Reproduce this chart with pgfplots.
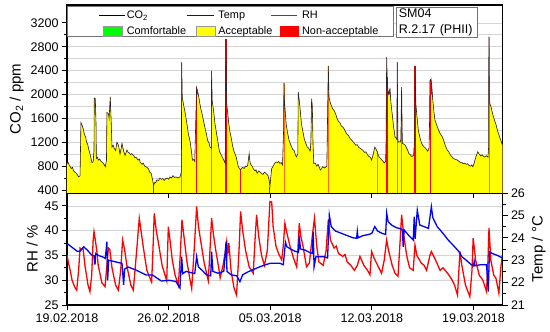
\documentclass[border=0pt]{standalone}
\usepackage{fontspec}
\setmainfont{Liberation Sans}
\usepackage{pgfplots}
\pgfplotsset{compat=1.18}
\usepackage{pgfplotstable}

\definecolor{cyel}{RGB}{255,255,0}
\definecolor{cred}{RGB}{255,0,0}
\definecolor{cgreen}{RGB}{0,255,0}
\definecolor{corange}{RGB}{255,110,0}
\definecolor{cblue}{RGB}{0,0,255}

\pgfplotstableread{
d c
0.00 845
0.08 860
0.15 820
0.30 760
0.38 780
0.45 720
0.60 690
0.70 660
0.80 620
0.90 640
0.96 1530
1.05 1480
1.12 1420
1.20 1330
1.28 1290
1.35 1200
1.42 1170
1.50 1080
1.60 990
1.72 860
1.80 870
1.86 1060
1.88 1940
1.95 1930
2.00 1500
2.02 930
2.10 950
2.15 900
2.25 920
2.35 880
2.50 850
2.64 790
2.72 900
2.75 1700
2.85 1680
2.90 1600
2.98 1960
3.05 1500
3.10 1120
3.18 1150
3.25 1100
3.35 1060
3.44 1200
3.55 1150
3.65 1000
3.72 1080
3.79 1180
3.90 1050
4.00 980
4.13 1070
4.22 1030
4.30 1020
4.38 990
4.45 1010
4.59 980
4.68 940
4.75 950
4.90 900
4.98 920
5.05 860
5.17 830
5.25 850
5.35 800
5.50 780
5.60 760
5.70 700
5.80 680
5.85 620
5.97 480
6.05 530
6.10 520
6.20 570
6.31 560
6.40 600
6.50 580
6.60 590
6.70 560
6.80 590
6.90 600
7.00 580
7.10 620
7.20 600
7.30 640
7.40 610
7.50 620
7.65 600
7.78 620
7.88 700
7.90 2540
7.94 1950
8.05 1800
8.12 1720
8.20 1600
8.28 1480
8.35 1350
8.42 1280
8.50 1180
8.57 1050
8.64 900
8.72 910
8.80 880
8.93 2120
9.00 2050
9.08 1960
9.15 1850
9.22 1760
9.30 1680
9.40 1560
9.50 1450
9.60 1340
9.70 1220
9.78 1190
9.85 1120
9.94 1100
9.96 2400
10.00 1900
10.10 1720
10.20 1500
10.30 1350
10.40 1200
10.50 1050
10.60 1000
10.70 950
10.80 900
10.90 845
10.95 2930
11.00 1850
11.08 1660
11.15 1500
11.22 1380
11.30 1290
11.40 1150
11.50 1050
11.58 1000
11.65 955
11.72 880
11.80 790
11.95 735
12.02 760
12.10 780
12.20 760
12.30 800
12.38 790
12.45 820
12.55 1010
12.60 880
12.65 830
12.75 800
12.85 750
12.95 720
13.02 740
13.10 680
13.20 720
13.30 700
13.40 680
13.50 660
13.60 700
13.70 680
13.78 660
13.85 640
13.93 560
13.98 455
14.04 620
14.10 760
14.20 800
14.30 845
14.40 870
14.50 860
14.58 880
14.67 845
14.75 860
14.85 820
14.92 1400
14.94 2200
14.98 1900
15.05 1650
15.10 1500
15.20 1350
15.30 1230
15.42 1150
15.55 1080
15.65 1060
15.72 1000
15.80 955
15.90 1000
15.93 2040
16.00 1900
16.08 1700
16.15 1510
16.25 1380
16.35 1250
16.45 1180
16.55 1120
16.65 1100
16.75 1050
16.80 1200
16.85 1930
16.90 1800
16.95 1150
17.00 845
17.10 850
17.20 800
17.30 830
17.45 735
17.55 760
17.60 790
17.75 770
17.90 800
18.00 2480
18.05 1950
18.12 1880
18.20 1820
18.30 1760
18.40 1730
18.50 1680
18.60 1600
18.70 1550
18.80 1530
18.90 1470
19.00 1456
19.10 1420
19.20 1370
19.30 1330
19.40 1310
19.50 1260
19.60 1240
19.70 1210
19.80 1180
19.90 1150
20.00 1160
20.10 1110
20.20 1100
20.30 1080
20.40 1060
20.50 1030
20.60 1040
20.70 990
20.80 960
20.90 950
20.98 900
21.05 960
21.10 1000
21.20 1120
21.28 1090
21.35 1050
21.42 1000
21.50 955
21.60 930
21.70 900
21.78 880
21.85 850
21.95 880
21.98 1200
22.02 2630
22.06 2260
22.12 2000
22.18 2050
22.25 2095
22.32 1850
22.40 1678
22.50 1450
22.60 1290
22.72 1250
22.75 2540
22.80 1200
22.88 1210
22.95 1200
23.00 1250
23.05 2120
23.10 1180
23.20 1170
23.30 1150
23.40 1100
23.48 1060
23.55 1010
23.65 990
23.75 960
23.88 980
23.95 1300
23.97 2480
24.03 1845
24.10 1650
24.20 1400
24.30 1290
24.40 1200
24.50 1150
24.60 1122
24.70 1100
24.85 1050
24.94 1100
24.98 1600
25.00 2230
25.08 2260
25.14 2100
25.20 1900
25.28 1700
25.35 1567
25.45 1500
25.60 1400
25.70 1350
25.85 1290
25.95 1230
26.05 1150
26.20 1067
26.30 1040
26.40 990
26.50 960
26.60 930
26.70 920
26.80 910
26.90 900
27.00 880
27.10 860
27.20 860
27.30 840
27.40 850
27.50 830
27.60 840
27.70 810
27.80 800
27.88 820
27.96 790
28.05 850
28.10 900
28.20 980
28.30 1040
28.40 1000
28.50 970
28.60 990
28.70 960
28.80 955
28.90 975
29.00 950
29.04 1100
29.06 2970
29.10 1870
29.20 1800
29.30 1700
29.38 1620
29.45 1567
29.55 1500
29.65 1400
29.72 1350
29.80 1290
29.90 1220
30.00 1150
}\co

\pgfplotstableread{
d rh
0.00 35.1
0.10 33.5
0.22 32.0
0.35 30.0
0.55 28.5
0.67 28.0
0.80 32
0.90 36.5
1.00 36.2
1.10 36.5
1.25 32.7
1.45 29
1.58 27.7
1.70 31
1.80 38
1.86 39.8
1.95 38.1
2.05 36
2.15 33
2.40 29.5
2.62 28.7
2.75 33
2.85 36.5
2.95 36.2
3.10 32.5
3.35 29
3.54 28.0
3.70 32
3.83 38.1
3.95 36.5
4.15 32.5
4.40 29
4.57 28.0
4.80 36
4.98 42.5
5.10 40
5.25 36.8
5.50 32
5.83 29.6
5.92 36
6.01 43.5
6.15 40
6.30 37.5
6.55 33
6.87 29.9
6.98 40.8
7.10 38
7.25 34.1
7.45 31
7.67 29.0
7.80 35
7.92 42.2
8.05 39
8.25 34
8.45 30.5
8.59 28.3
8.80 38
8.93 44.9
9.05 41
9.20 38.1
9.45 33.5
9.73 29.9
9.85 36
9.96 42.5
10.10 39
10.25 36
10.45 32.5
10.55 30.5
10.75 33
10.92 36
11.00 37.8
11.08 35.5
11.15 37.5
11.30 32
11.50 28.5
11.68 27.0
11.85 36
11.96 43.9
12.10 40
12.30 36
12.55 32.7
12.83 31.4
12.95 38
13.06 43.2
13.20 39
13.40 35
13.60 33
13.80 36
13.98 45.9
14.10 45.8
14.20 40.8
14.40 36.8
14.60 35.2
14.79 34.1
14.90 37
15.01 41.5
15.15 39.5
15.35 37
15.60 34.5
15.82 32.7
15.90 36
16.00 41.5
16.10 39
16.25 37
16.50 32.7
16.70 33.5
16.90 39
17.05 42.5
17.20 37
17.35 33.7
17.65 33.0
17.85 36
18.00 42.2
18.15 38.1
18.40 36.5
18.55 36.9
18.70 35.4
19.00 34.8
19.15 35.2
19.30 33.7
19.55 33
19.80 32.0
20.00 33
20.18 34.8
20.45 33
20.70 32
20.87 31.1
20.98 35.8
21.15 34.5
21.40 33
21.67 31.4
21.85 34
22.02 38.1
22.15 36
22.40 33
22.60 31.4
22.80 30.8
22.95 38
23.05 43.2
23.20 39
23.40 35
23.60 32.5
23.85 32
23.97 37.1
24.10 35
24.40 33.5
24.60 33
24.77 32
25.00 35
25.10 35.8
25.20 35.2
25.40 34
25.70 32
25.90 32.5
26.20 31.5
26.50 30.2
26.70 29
26.90 27.0
27.07 35.8
27.20 33
27.45 29
27.75 26.7
27.90 32
27.98 38.5
28.15 34
28.40 31
28.65 30
28.90 27.7
29.00 34
29.07 40.5
29.20 34
29.40 31
29.55 30.4
29.75 27.4
29.90 33
30.00 35.1
}\rh

\pgfplotstableread{
d t
0.00 23.75
0.30 23.6
0.70 23.4
0.90 23.4
1.15 23.6
1.40 23.45
1.70 23.23
1.85 23.2
1.93 22.8
1.98 23.3
2.20 23.2
2.45 23.15
2.64 23.08
2.75 23.83
2.80 22.1
2.87 23.0
3.20 22.95
3.50 22.9
3.79 22.86
3.90 21.9
3.97 22.6
4.20 22.7
4.75 22.56
5.10 22.45
5.45 22.34
5.90 22.34
6.20 22.2
6.51 22.07
6.90 22.1
7.10 22.1
7.50 22.05
7.78 21.76
7.90 23.16
7.97 22.4
8.20 22.5
8.50 22.45
8.80 22.4
8.93 23.16
9.05 22.7
9.30 22.55
9.60 22.35
9.90 22.3
9.96 23.38
10.05 22.5
10.40 22.42
10.80 22.5
10.96 23.83
11.02 22.5
11.30 22.35
11.70 22.3
11.91 22.04
12.10 22.35
12.50 22.49
12.90 22.6
13.30 22.71
13.70 22.8
14.00 22.86
14.40 22.86
14.67 22.86
14.90 22.8
15.05 23.8
15.15 23.6
15.40 23.5
15.70 23.4
15.95 23.35
16.00 24.1
16.08 23.5
16.40 23.45
16.70 23.35
16.90 23.3
16.96 24.27
17.02 22.7
17.15 23.16
17.40 23.16
17.65 23.16
17.95 23.1
18.07 25.02
18.20 24.5
18.50 24.3
18.90 24.2
19.30 24.1
19.70 24.0
19.95 23.98
20.00 24.3
20.05 24.0
20.40 24.1
20.80 24.15
21.00 24.2
21.20 24.5
21.40 24.3
21.70 24.2
21.95 24.15
22.02 25.1
22.12 24.72
22.40 24.55
22.70 24.45
23.00 24.4
23.10 24.35
23.16 23.6
23.22 24.35
23.55 24.1
23.85 23.9
23.92 24.94
23.98 23.95
24.13 25.24
24.30 24.57
24.60 24.5
24.90 24.42
25.02 25.0
25.10 25.39
25.20 24.9
25.50 24.5
25.90 24.2
26.26 23.9
26.70 23.6
27.00 23.38
27.20 23.16
27.50 23.0
27.87 22.79
28.00 22.75
28.05 22.95
28.10 22.75
28.50 22.8
28.90 22.8
29.02 21.6
29.10 23.38
29.30 23.3
29.70 23.2
30.00 23.1
}\tmp

\begin{document}
\begin{tikzpicture}
\useasboundingbox (-67pt,-27pt) rectangle (483pt,305pt);
\pgfplotsset{
  every axis/.append style={
    scale only axis, width=435.5pt, xmin=0, xmax=30,
    tick label style={font=\fontsize{12.5}{14}\selectfont},
    label style={font=\fontsize{15}{17}\selectfont},
    /pgf/number format/assume math mode=true,
    /pgf/number format/1000 sep={},
    axis line style={line width=1.1pt},
    major tick length=5pt, minor tick length=3pt,
    every tick/.style={black, line width=0.8pt},
    tick align=outside,
    grid style={black!17, line width=0.7pt},
    minor grid style={black!17, line width=0.7pt},
  }
}
% ---------- bottom panel: RH ----------
\begin{axis}[
  at={(0pt,0pt)}, anchor=south west, height=112pt,
  ymin=25, ymax=47.6, ytick={25,30,35,40,45}, minor y tick num=1,
  ymajorgrids, ytick pos=left,
  xtick={0,7,14,21,28},
  xticklabels={19.02.2018,26.02.2018,05.03.2018,12.03.2018,19.03.2018},
  xtick pos=bottom,
  ylabel={RH / \%},
]
\addplot[cred, line width=1.3pt] table[x=d,y=rh]{\rh};
\end{axis}
% ---------- bottom panel: inward date ticks on its upper edge ----------
\begin{axis}[
  at={(0pt,0pt)}, anchor=south west, height=112pt,
  ymin=0, ymax=1, hide y axis, axis x line*=top,
  xtick={0,7,14,21,28}, xticklabels={}, tick align=inside,
]
\end{axis}
% ---------- bottom panel: Temp ----------
\begin{axis}[
  at={(0pt,0pt)}, anchor=south west, height=112pt,
  ymin=21, ymax=26, ytick={21,22,23,24,25,26}, minor y tick num=1,
  axis y line*=right, axis x line=none,
  ylabel={Temp / °C},
]
\addplot[cblue, line width=1.3pt] table[x=d,y=t]{\tmp};
\end{axis}
% ---------- top panel: CO2 ----------
\begin{axis}[
  at={(0pt,112pt)}, anchor=south west, height=188pt,
  ymin=350, ymax=3500, ytick={400,800,...,3200}, minor y tick num=1,
  ymajorgrids, yminorgrids, ytick pos=left, xtick=\empty,
  ylabel={CO\textsubscript{2} / ppm},
  legend columns=3,
  legend cell align=left,
  legend style={at={(0.0712,0.977)}, anchor=north west, draw=none, fill=none,
    inner sep=0pt, column sep=0pt, row sep=3pt,
    nodes={inner sep=1.5pt}, font=\fontsize{10.9}{12}\selectfont},
]
% red (non-acceptable) part of the area, then yellow up to the 2000 ppm limit
\addplot[fill=cred, draw=none, forget plot] table[x=d,y=c]{\co} \closedcycle;
\addplot[fill=cyel, draw=none, forget plot, y filter/.expression={min(y,2000)}] table[x=d,y=c]{\co} \closedcycle;
\addplot[ycomb, corange, line width=0.7pt, mark=none, forget plot] coordinates {
 (7.90,2540) (9.96,2400) (14.94,2200) (18.00,2480) (22.75,2540) (23.05,2120) (29.06,2970)};
\addplot[ycomb, cred, line width=0.9pt, mark=none, forget plot] coordinates {
 (5.97,480) (8.93,2120) (11.96,735) (13.98,455)};
\addplot[ycomb, cred, line width=1.6pt, mark=none, forget plot] coordinates {
 (10.95,2930) (22.06,2300) (23.97,2480) (25.03,2240)};
\addplot[ycomb, cgreen, line width=1pt, mark=none, forget plot] coordinates {(21.37,1050)};
\addplot[black!85, line width=0.6pt, forget plot] table[x=d,y=c]{\co};
% legend frame and info box
\draw[black!55, fill=white, line width=0.6pt] (rel axis cs:0,0.991) rectangle (rel axis cs:0.7486,0.835);
\node[draw=black!55, fill=white, line width=0.6pt, anchor=north west, align=left,
  inner xsep=2.5pt, inner ysep=1.5pt, text width=76pt,
  font=\fontsize{12.5}{16}\selectfont] at (rel axis cs:0.7555,0.991) {SM04\\R.2.17 (PHII)};
% legend entries
\addlegendimage{black, line width=1.1pt, legend image code/.code={\draw (0pt,0pt) -- (26pt,0pt);}}
\addlegendentry{\makebox[58pt][l]{CO\textsubscript{2}}}
\addlegendimage{cblue, line width=1.1pt, legend image code/.code={\draw (0pt,0pt) -- (27pt,0pt); \path[draw=none, fill=none] (30pt,0pt) circle (0.1pt);}}
\addlegendentry{\makebox[50pt][l]{Temp}}
\addlegendimage{cred, line width=1.1pt, legend image code/.code={\draw (0pt,0pt) -- (26pt,0pt); \path[draw=none, fill=none] (30pt,0pt) circle (0.1pt);}}
\addlegendentry{\makebox[76pt][l]{RH}}
\addlegendimage{legend image code/.code={\path[draw=none, fill=none] (0pt,0pt) circle (0.1pt); \path[draw=none, fill=none] (26pt,0pt) circle (0.1pt); \filldraw[fill=cgreen, draw=black!40, line width=0.4pt] (4pt,-5pt) rectangle (23pt,5pt);}}
\addlegendentry{\makebox[58pt][l]{Comfortable}}
\addlegendimage{legend image code/.code={\path[draw=none, fill=none] (0pt,0pt) circle (0.1pt); \path[draw=none, fill=none] (30pt,0pt) circle (0.1pt); \filldraw[fill=cyel, draw=black!40, line width=0.4pt] (9pt,-5pt) rectangle (28pt,5pt);}}
\addlegendentry{\makebox[50pt][l]{Acceptable}}
\addlegendimage{legend image code/.code={\path[draw=none, fill=none] (0pt,0pt) circle (0.1pt); \path[draw=none, fill=none] (30pt,0pt) circle (0.1pt); \filldraw[fill=cred, draw=cred, line width=0.4pt] (10pt,-5pt) rectangle (28pt,5pt);}}
\addlegendentry{\makebox[76pt][l]{Non-acceptable}}
\end{axis}
\end{tikzpicture}
\end{document}
